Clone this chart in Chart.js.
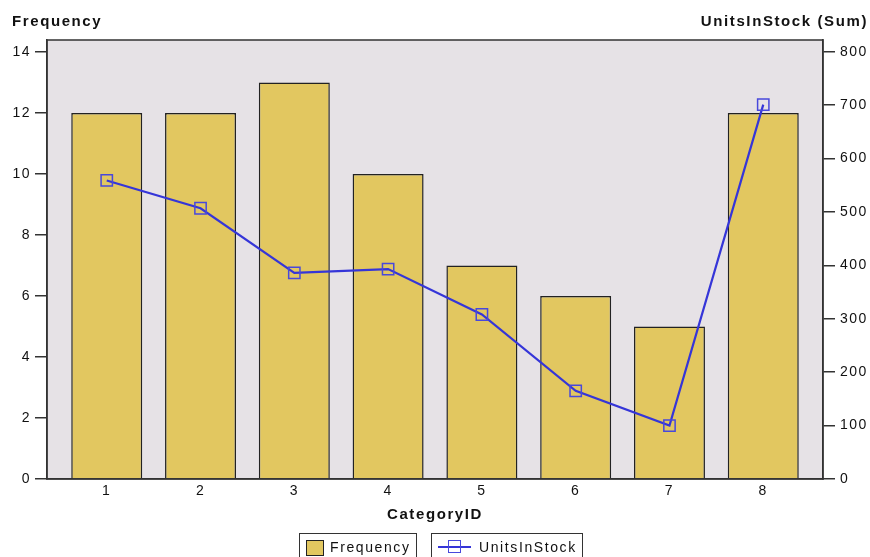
<!DOCTYPE html>
<html>
<head>
<meta charset="utf-8">
<script src="https://cdn.jsdelivr.net/npm/chart.js@4"></script>
<style>
  body { margin: 0; background: #ffffff; overflow: hidden; }
  #wrap { position: relative; width: 870px; height: 557px; overflow: hidden;
          font-family: "Liberation Sans", Arial, sans-serif; color: #111; }
  canvas { position: absolute; left: 0; top: 0; }
  .axisTitle { position: absolute; font-weight: bold; font-size: 15px;
               letter-spacing: 1.6px; white-space: nowrap; line-height: 16px; }
  .legendBox { position: absolute; top: 533px; height: 30px; border: 1px solid #333;
               box-sizing: border-box; font-size: 14px; letter-spacing: 1.6px; }
  .legendBox span.txt { position: absolute; top: 5px; line-height: 16px; }
</style>
</head>
<body>
<div id="wrap">
  <canvas id="chart" width="870" height="557"></canvas>
  <div class="axisTitle" style="left:12px; top:13px;">Frequency</div>
  <div class="axisTitle" style="right:2px; top:13px;">UnitsInStock (Sum)</div>
  <div class="axisTitle" style="left:0; width:870px; text-align:center; top:506px;">CategoryID</div>

  <div class="legendBox" style="left:299px; width:118px;">
    <div style="position:absolute; left:6px; top:6px; width:16px; height:14px; background:#E2C760; border:1px solid #222;"></div>
    <span class="txt" style="left:30px;">Frequency</span>
  </div>
  <div class="legendBox" style="left:431px; width:152px;">
    <div style="position:absolute; left:6px; top:12px; width:33px; height:2px; background:#3535D8;"></div>
    <div style="position:absolute; left:16px; top:6px; width:11px; height:11px; border:1.5px solid #4848DC;"></div>
    <span class="txt" style="left:47px;">UnitsInStock</span>
  </div>
</div>

<script>

// DATA

const categoryIds = [1, 2, 3, 4, 5, 6, 7, 8];

const frequency = [12, 12, 13, 10, 7, 6, 5, 12];

const unitsInStock = [559, 507, 386, 393, 308, 165, 100, 701];

const freqTicks = [0, 2, 4, 6, 8, 10, 12, 14];

const unitsTicks = [0, 100, 200, 300, 400, 500, 600, 700, 800];



// COLOURS

const barColor = "#E2C760";
const plotBg = "#E6E2E6";
const axisColor = "#333333";
const lineColor = "#3535D8";



// PLOT FRAME + BACKGROUND

const plotFrame = {

  id: "plotFrame",

  beforeUpdate(chart) {
    chart.ctx.letterSpacing = "1.5px";
  },

  beforeDraw(chart) {

    const { ctx, chartArea } = chart;

    ctx.letterSpacing = "1.5px";

    ctx.save();
    ctx.fillStyle = plotBg;
    ctx.fillRect(
      chartArea.left, chartArea.top,
      chartArea.right - chartArea.left,
      chartArea.bottom - chartArea.top
    );
    ctx.restore();

  },

  afterDraw(chart) {

    const { ctx, chartArea } = chart;

    ctx.save();
    ctx.strokeStyle = axisColor;
    ctx.lineWidth = 1.5;
    ctx.strokeRect(
      chartArea.left, chartArea.top,
      chartArea.right - chartArea.left,
      chartArea.bottom - chartArea.top
    );
    ctx.restore();

  }

};



const tickFont = {
  family: "'Liberation Sans', Arial, sans-serif",
  size: 14
};



new Chart(
  document.getElementById("chart"),
  {

    type: "bar",

    data: {

      datasets: [

        {
          type: "line",
          label: "UnitsInStock",
          data: categoryIds.map((id, i) => ({ x: id, y: unitsInStock[i] })),
          yAxisID: "yUnits",
          borderColor: lineColor,
          borderWidth: 2.2,
          pointStyle: "rect",
          pointRadius: 8,
          pointBorderWidth: 1.5,
          pointBorderColor: "#4848DC",
          pointBackgroundColor: "rgba(0,0,0,0)",
          tension: 0,
          order: 0
        },

        {
          type: "bar",
          label: "Frequency",
          data: categoryIds.map((id, i) => ({ x: id, y: frequency[i] })),
          yAxisID: "yFreq",
          backgroundColor: barColor,
          borderColor: "#222222",
          borderWidth: 1.5,
          categoryPercentage: 1,
          barPercentage: 0.757,
          order: 1
        }

      ]
    },

    options: {

      responsive: false,

      animation: false,

      layout: {
        padding: { top: 40, left: 0, right: 0, bottom: 0 }
      },

      plugins: {
        legend: { display: false },
        tooltip: { enabled: false }
      },

      scales: {

        x: {
          type: "linear",
          offset: false,
          min: 0.363,
          max: 8.637,
          afterFit(scale) { scale.height = 78; },
          afterBuildTicks(scale) {
            scale.ticks = categoryIds.map(v => ({ value: v }));
          },
          ticks: {
            color: "#111",
            font: tickFont,
            padding: 4,
            callback: v => String(v)
          },
          grid: { display: false, drawTicks: false },
          border: { display: true, color: axisColor, width: 1.5 }
        },

        yFreq: {
          type: "linear",
          position: "left",
          min: 0,
          max: 14.39,
          afterFit(scale) { scale.width = 47; },
          afterBuildTicks(scale) {
            scale.ticks = freqTicks.map(v => ({ value: v }));
          },
          ticks: {
            color: "#111",
            font: tickFont,
            padding: 4
          },
          grid: {
            drawOnChartArea: false,
            drawTicks: true,
            tickLength: 12,
            color: axisColor,
            lineWidth: 1.5
          },
          border: { display: true, color: axisColor, width: 1.5 }
        },

        yUnits: {
          type: "linear",
          position: "right",
          min: 0,
          max: 822,
          afterFit(scale) { scale.width = 47; },
          afterBuildTicks(scale) {
            scale.ticks = unitsTicks.map(v => ({ value: v }));
          },
          ticks: {
            color: "#111",
            font: tickFont,
            padding: 5
          },
          grid: {
            drawOnChartArea: false,
            drawTicks: true,
            tickLength: 12,
            color: axisColor,
            lineWidth: 1.5
          },
          border: { display: true, color: axisColor, width: 1.5 }
        }

      }

    },

    plugins: [plotFrame]

  }
);

</script>
</body>
</html>
